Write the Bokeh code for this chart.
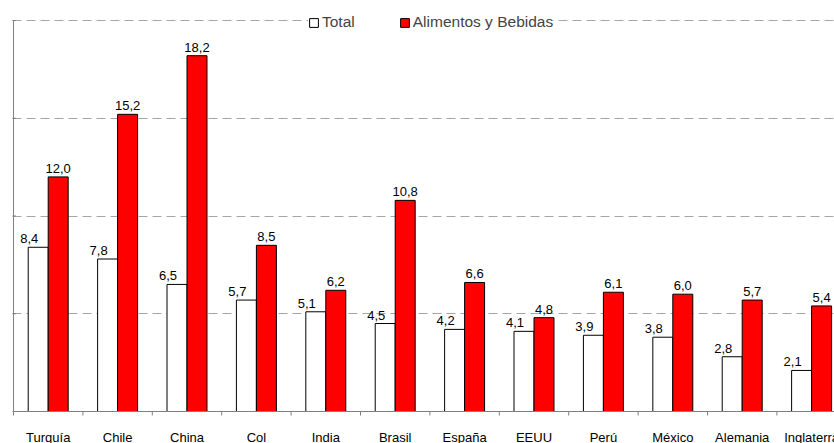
from bokeh.plotting import figure
from bokeh.models import (ColumnDataSource, Range1d, FixedTicker, Legend, LegendItem)
from bokeh.core.properties import value
from bokeh.embed import file_html
from bokeh.resources import INLINE

categories = ["Turquía", "Chile", "China", "Col", "India", "Brasil", "España",
              "EEUU", "Perú", "México", "Alemania", "Inglaterra"]
total = [8.4, 7.8, 6.5, 5.7, 5.1, 4.5, 4.2, 4.1, 3.9, 3.8, 2.8, 2.1]
alimentos = [12.0, 15.2, 18.2, 8.5, 6.2, 10.8, 6.6, 4.8, 6.1, 6.0, 5.7, 5.4]
y_ticks = [0, 5, 10, 15, 20]

FONT = "Liberation Sans"
BAR_W = 0.288
AXIS_COLOR = "#808080"
PX_X = 69.4      # pixels per category
PX_Y = 19.55     # pixels per unit
TICK_LEN = 4 / PX_Y

centers = [i + 0.5 for i in range(len(categories))]
bounds = [i for i in range(len(categories) + 1)]

def fmt(v):
    return f"{v:.1f}".replace(".", ",")

src_t = ColumnDataSource(dict(x=[c - BAR_W / 2 for c in centers], y=total,
                              lab=[fmt(v) for v in total]))
src_a = ColumnDataSource(dict(x=[c + BAR_W / 2 for c in centers], y=alimentos,
                              lab=[fmt(v) for v in alimentos]))
src_yt = ColumnDataSource(dict(x=[0] * len(y_ticks), y=y_ticks))
src_xt = ColumnDataSource(dict(x=bounds, y0=[0] * len(bounds),
                               y1=[-TICK_LEN] * len(bounds)))
src_cat = ColumnDataSource(dict(x=centers, y=[0] * len(centers), lab=categories))

W, H, LEFT = 834, 443, 12
x_start = -1 / PX_X
x_end = x_start + (W - LEFT) / PX_X
y_end = 411 / PX_Y
y_start = -(H - 411) / PX_Y

p = figure(width=W, height=H, output_backend="svg", toolbar_location=None,
           x_range=Range1d(x_start, x_end), y_range=Range1d(y_start, y_end),
           min_border_left=LEFT, min_border_right=0, min_border_top=0,
           min_border_bottom=0)
p.outline_line_color = None
p.background_fill_color = "white"
p.border_fill_color = "white"
p.xaxis.visible = False
p.yaxis.visible = False

p.xgrid.grid_line_color = None
p.ygrid.ticker = FixedTicker(ticks=y_ticks[1:])
p.ygrid.grid_line_color = "#a6a6a6"
p.ygrid.grid_line_dash = "9 5"
p.ygrid.grid_line_width = 1

r_t = p.vbar(x="x", top="y", width=BAR_W, source=src_t, fill_color="white",
             line_color="black", line_width=1)
r_a = p.vbar(x="x", top="y", width=BAR_W, source=src_a, fill_color="#FF0000",
             line_color="black", line_width=1)

# value labels
p.text(x="x", y="y", text="lab", source=src_t, x_offset=-9, y_offset=-4,
       text_align="center", text_baseline="bottom", text_font=value(FONT),
       text_font_size="13px", text_color="black")
p.text(x="x", y="y", text="lab", source=src_a, x_offset=0, y_offset=-4,
       text_align="center", text_baseline="bottom", text_font=value(FONT),
       text_font_size="13px", text_color="black")

# y axis: line + cross ticks
p.segment(x0=0, y0=y_ticks[0], x1=0, y1=y_ticks[-1], line_color=AXIS_COLOR, line_width=1)
p.scatter(x="x", y="y", source=src_yt, marker="dash", size=5,
          line_color=AXIS_COLOR, line_width=1)

# x axis: line, ticks between categories, labels under centers
p.segment(x0=bounds[0], y0=0, x1=bounds[-1], y1=0, line_color=AXIS_COLOR, line_width=1)
p.segment(x0="x", y0="y0", x1="x", y1="y1", source=src_xt,
          line_color=AXIS_COLOR, line_width=1)
p.text(x="x", y="y", text="lab", source=src_cat, y_offset=18,
       text_align="center", text_baseline="top", text_font=value(FONT),
       text_font_size="13px", text_color="black")

legend = Legend(items=[LegendItem(label="Total", renderers=[r_t]),
                       LegendItem(label="Alimentos y Bebidas", renderers=[r_a])],
                orientation="horizontal", location=(296, 412),
                glyph_width=11, glyph_height=11, label_standoff=3, spacing=44,
                padding=4, margin=0, label_height=16,
                label_text_font=FONT, label_text_font_size="15.5px",
                border_line_color=None, background_fill_color="white",
                background_fill_alpha=1.0)
p.add_layout(legend)

open("out.html", "w").write(file_html(p, INLINE))
